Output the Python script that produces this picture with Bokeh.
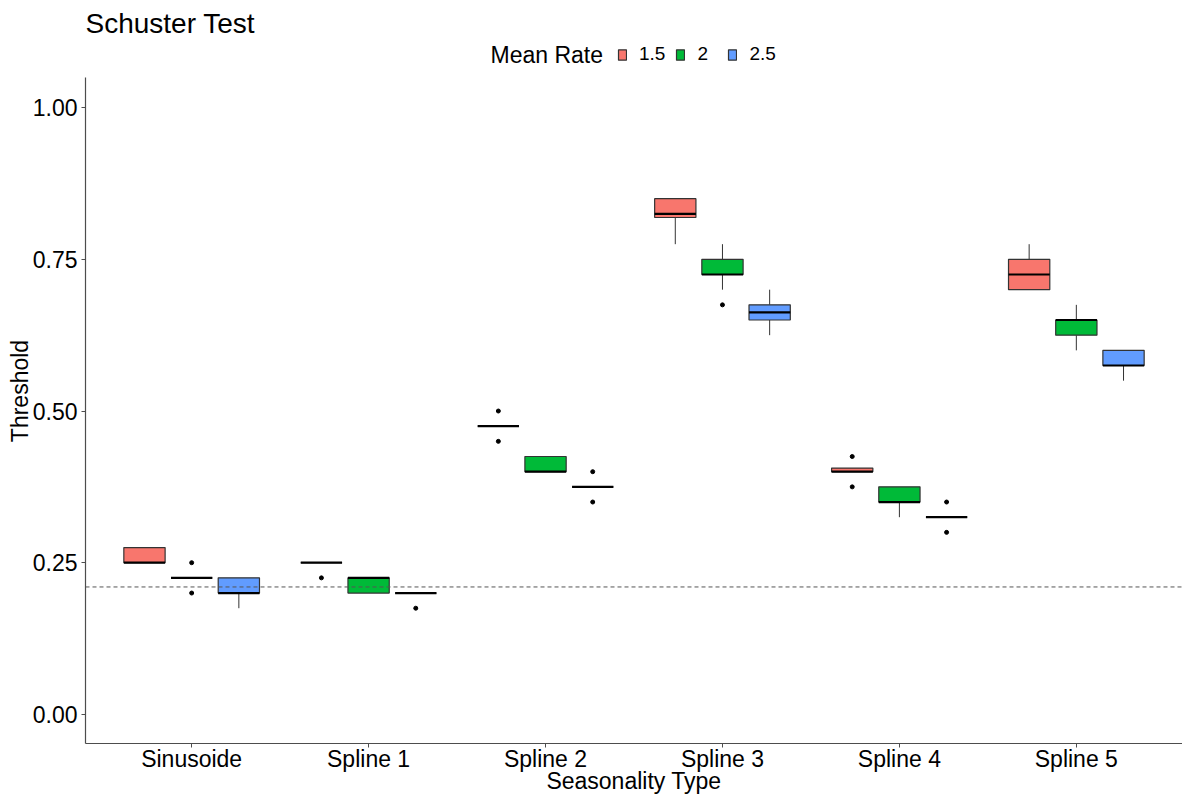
from bokeh.plotting import figure
from bokeh.models import (ColumnDataSource, FactorRange, Range1d, Legend, LegendItem,
                          Span, Label, FixedTicker, NumeralTickFormatter)
from bokeh.transform import dodge
from bokeh.embed import file_html
from bokeh.resources import INLINE

# Seasonality types on the x axis
categories = ["Sinusoide", "Spline 1", "Spline 2", "Spline 3", "Spline 4", "Spline 5"]
rates = ["1.5", "2", "2.5"]
colors = ["#F8766D", "#00BA38", "#619CFF"]

# Box-plot summaries per mean rate (lower whisker, Q1, median, Q3, upper whisker)
lower_15 = [0.25, 0.25, 0.475, 0.775, 0.400, 0.700]
q1_15 = [0.25, 0.25, 0.475, 0.819, 0.400, 0.700]
med_15 = [0.25, 0.25, 0.475, 0.825, 0.400, 0.725]
q3_15 = [0.275, 0.25, 0.475, 0.850, 0.406, 0.750]
upper_15 = [0.275, 0.25, 0.475, 0.850, 0.406, 0.775]

lower_2 = [0.225, 0.200, 0.400, 0.700, 0.325, 0.600]
q1_2 = [0.225, 0.200, 0.400, 0.725, 0.350, 0.625]
med_2 = [0.225, 0.225, 0.400, 0.725, 0.350, 0.650]
q3_2 = [0.225, 0.225, 0.425, 0.750, 0.375, 0.650]
upper_2 = [0.225, 0.225, 0.425, 0.775, 0.375, 0.675]

lower_25 = [0.175, 0.200, 0.375, 0.625, 0.325, 0.550]
q1_25 = [0.200, 0.200, 0.375, 0.650, 0.325, 0.575]
med_25 = [0.200, 0.200, 0.375, 0.6625, 0.325, 0.575]
q3_25 = [0.225, 0.200, 0.375, 0.675, 0.325, 0.600]
upper_25 = [0.225, 0.200, 0.375, 0.700, 0.325, 0.600]

# Outlying points
out_cat_15 = ["Spline 1", "Spline 2", "Spline 2", "Spline 4", "Spline 4"]
out_val_15 = [0.225, 0.500, 0.450, 0.425, 0.375]
out_cat_2 = ["Sinusoide", "Sinusoide", "Spline 3"]
out_val_2 = [0.250, 0.200, 0.675]
out_cat_25 = ["Spline 1", "Spline 2", "Spline 2", "Spline 4", "Spline 4"]
out_val_25 = [0.175, 0.400, 0.350, 0.350, 0.300]

# Reference threshold
reference_level = 0.21

series = [
    (lower_15, q1_15, med_15, q3_15, upper_15, out_cat_15, out_val_15),
    (lower_2, q1_2, med_2, q3_2, upper_2, out_cat_2, out_val_2),
    (lower_25, q1_25, med_25, q3_25, upper_25, out_cat_25, out_val_25),
]

FONT = "Liberation Sans"
dodge_step = 0.8 / 3
box_w = 0.7 / 3

# The frame reaches up under the title so the legend row fits inside it;
# the y axis line itself is bounded to the panel's value span.
p = figure(
    x_range=FactorRange(factors=categories, range_padding=0.2 / 6, range_padding_units="percent"),
    y_range=Range1d(-0.048, 1.114),
    width=1182, height=796,
    output_backend="svg", toolbar_location=None,
    min_border_left=85, min_border_right=0, min_border_top=38, min_border_bottom=0,
    x_axis_label="Seasonality Type", y_axis_label="Threshold",
)
p.outline_line_color = None
p.background_fill_color = "white"
p.border_fill_color = "white"
p.xgrid.visible = False
p.ygrid.visible = False

# Title
p.title.text = "Schuster Test"
p.title.text_font = FONT
p.title.text_font_size = "28px"
p.title.text_font_style = "normal"
p.title.text_color = "black"
p.title.align = "left"
p.title.offset = 0
p.title.standoff = 0

legend_items = []
for k, (lo, q1, md, q3, up, oc, ov) in enumerate(series):
    off = (k - 1) * dodge_step
    src = ColumnDataSource(dict(cat=categories, lower=lo, q1=q1, med=md, q3=q3, upper=up))
    xr = p.x_range
    p.segment(x0=dodge("cat", off, range=xr), y0="q3", x1=dodge("cat", off, range=xr), y1="upper",
              source=src, line_color="#333333", line_width=1)
    p.segment(x0=dodge("cat", off, range=xr), y0="q1", x1=dodge("cat", off, range=xr), y1="lower",
              source=src, line_color="#333333", line_width=1)
    box = p.vbar(x=dodge("cat", off, range=xr), width=box_w, top="q3", bottom="q1", source=src,
                 fill_color=colors[k], line_color="#333333", line_width=1.2)
    p.segment(x0=dodge("cat", off - box_w / 2, range=xr), y0="med",
              x1=dodge("cat", off + box_w / 2, range=xr), y1="med",
              source=src, line_color="black", line_width=2.2)
    osrc = ColumnDataSource(dict(cat=oc, val=ov))
    p.scatter(x=dodge("cat", off, range=xr), y="val", source=osrc, size=4,
              fill_color="black", line_color="black")
    legend_items.append(LegendItem(label=rates[k], renderers=[box]))

p.add_layout(Span(location=reference_level, dimension="width", line_color="#555555",
                  line_dash="4 3", line_width=1))

# Axes
for ax in (p.xaxis[0], p.yaxis[0]):
    ax.axis_line_color = "#4D4D4D"
    ax.axis_line_width = 1.2
    ax.major_tick_line_color = "#4D4D4D"
    ax.major_tick_out = 4
    ax.major_tick_in = 0
    ax.minor_tick_line_color = None
    ax.major_label_text_font = FONT
    ax.major_label_text_font_size = "23px"
    ax.major_label_text_color = "black"
    ax.axis_label_text_font = FONT
    ax.axis_label_text_font_size = "23px"
    ax.axis_label_text_font_style = "normal"
    ax.axis_label_text_color = "black"

p.xaxis.major_label_standoff = -2
p.xaxis.axis_label_standoff = -7
p.yaxis.major_label_standoff = 4
p.yaxis.axis_label_standoff = -3
p.yaxis.bounds = (-0.048, 1.05)
p.yaxis.ticker = FixedTicker(ticks=[0, 0.25, 0.5, 0.75, 1.0])
p.yaxis.formatter = NumeralTickFormatter(format="0.00")

# Legend row; location is the legend's bottom-left, in screen units from the frame's bottom-left
legend = Legend(items=legend_items, orientation="horizontal", location=(532, 678))
legend.label_text_font = FONT
legend.label_text_font_size = "19px"
legend.label_text_color = "black"
legend.glyph_width = 10
legend.glyph_height = 13
legend.spacing = 10
legend.label_standoff = 12
legend.border_line_color = None
legend.background_fill_alpha = 0
legend.padding = 0
legend.margin = 0
p.add_layout(legend, "center")

p.add_layout(Label(x=405, y=689, x_units="screen", y_units="screen", text="Mean Rate",
                   text_font=FONT, text_font_size="23px", text_color="black",
                   text_baseline="middle", text_align="left"))

open("out.html", "w").write(file_html(p, INLINE))
